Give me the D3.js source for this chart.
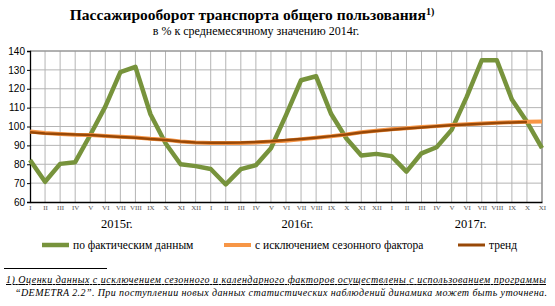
<!DOCTYPE html>
<html>
<head>
<meta charset="utf-8">
<script src="https://cdn.jsdelivr.net/npm/d3@7"></script>
<style>
  body { margin: 0; background: #fff; }
  svg { display: block; }
</style>
</head>
<body>
<svg id="chart"></svg>
<script>
const months = ['I', 'II', 'III', 'IV', 'V', 'VI', 'VII', 'VIII', 'IX', 'X', 'XI', 'XII']
const years = ['2015г.', '2016г.', '2017г.']
const yTicks = [60, 70, 80, 90, 100, 110, 120, 130, 140]

// по фактическим данным
const actual = [
  82.3, 70.7, 80.2, 81.1, 95.5, 110.5, 128.8, 131.6, 106.5, 91.1, 80.0, 79.0,
  77.5, 69.3, 77.4, 79.5, 88.5, 106.0, 124.5, 126.6, 106.6, 93.8, 84.6, 85.5,
  84.3, 76.1, 85.8, 89.0, 98.2, 115.7, 135.1, 135.1, 114.3, 102.5, 88.5
]
// с исключением сезонного фактора
const seasonal = [
  97.3, 96.5, 96.0, 95.6, 95.5, 95.0, 94.6, 94.2, 93.5, 93.0, 92.0, 91.5,
  91.3, 91.3, 91.3, 91.5, 92.0, 92.5, 93.3, 94.0, 94.8, 95.8, 97.0, 97.8,
  98.5, 99.1, 99.7, 100.2, 100.8, 101.2, 101.6, 102.0, 102.3, 102.5, 102.6
]
// тренд
const trend = [
  97.0, 96.3, 96.0, 95.7, 95.5, 95.0, 94.5, 94.0, 93.4, 92.8, 92.0, 91.5,
  91.4, 91.4, 91.5, 91.8, 92.2, 92.8, 93.4, 94.1, 94.9, 95.8, 96.8, 97.6,
  98.3, 98.9, 99.5, 100.1, 100.6, 101.0, 101.4, 101.8, 102.1, 102.4
]

const width = 555
const height = 306
const plotLeft = 30
const plotRight = 542
const plotTop = 51
const plotBottom = 202

const greenColor = '#77933c'
const orangeColor = '#f79646'
const brownColor = '#984807'
const gridColor = '#b4b4b4'

const labels = d3.range(actual.length).map(i => months[i % 12])

const svg = d3.select('#chart').attr('width', width).attr('height', height)

const x = d3.scaleLinear().domain([0, actual.length - 1]).range([plotLeft, plotRight])
const y = d3.scaleLinear().domain([60, 140]).range([plotBottom, plotTop])

// title
const title = svg.append('text')
  .attr('x', 252)
  .attr('y', 20)
  .attr('text-anchor', 'middle')
  .attr('font-family', 'Liberation Serif')
  .attr('font-weight', 'bold')
  .attr('font-size', 15.5)
  .attr('fill', '#000')
title.append('tspan').text('Пассажирооборот транспорта общего пользования')
title.append('tspan').attr('font-size', 10).attr('dy', -5).text('1)')

svg.append('text')
  .attr('x', 256)
  .attr('y', 35)
  .attr('text-anchor', 'middle')
  .attr('font-family', 'Liberation Serif')
  .attr('font-size', 12)
  .text('в % к среднемесячному значению 2014г.')

// grid
const grid = svg.append('g')
grid.selectAll('line.h')
  .data(yTicks.slice(1))
  .enter()
  .append('line')
  .attr('x1', plotLeft).attr('x2', plotRight)
  .attr('y1', d => y(d)).attr('y2', d => y(d))
  .attr('stroke', gridColor).attr('stroke-width', 1)
grid.selectAll('line.v')
  .data(d3.range(1, actual.length))
  .enter()
  .append('line')
  .attr('x1', d => x(d)).attr('x2', d => x(d))
  .attr('y1', plotTop).attr('y2', plotBottom)
  .attr('stroke', gridColor).attr('stroke-width', 1)
grid.append('line')
  .attr('x1', plotRight).attr('x2', plotRight).attr('y1', plotTop).attr('y2', plotBottom)
  .attr('stroke', '#888').attr('stroke-width', 1.2)
grid.append('line')
  .attr('x1', plotLeft).attr('x2', plotRight).attr('y1', plotTop).attr('y2', plotTop)
  .attr('stroke', '#888').attr('stroke-width', 1.2)

// y axis
const yAxis = svg.append('g')
  .attr('transform', 'translate(' + plotLeft + ',0)')
  .call(d3.axisLeft(y).tickValues(yTicks).tickSize(3).tickPadding(2))
yAxis.select('.domain').attr('stroke', '#000').attr('stroke-width', 1.3)
yAxis.selectAll('.tick line').attr('stroke', '#000')
yAxis.selectAll('text')
  .attr('font-family', 'Liberation Sans')
  .attr('font-size', 10)
  .attr('fill', '#000')

// x axis
const xAxis = svg.append('g')
  .attr('transform', 'translate(0,' + plotBottom + ')')
  .call(d3.axisBottom(x).tickValues(d3.range(actual.length)).tickSize(0).tickPadding(3)
    .tickFormat(i => labels[i]))
xAxis.select('.domain').attr('stroke', '#000').attr('stroke-width', 1.3)
xAxis.selectAll('text')
  .attr('font-family', 'Liberation Serif')
  .attr('font-size', 7)
  .attr('fill', '#555')

svg.append('g')
  .selectAll('text')
  .data(years)
  .enter()
  .append('text')
  .attr('x', (d, i) => x((i * 12 + Math.min(i * 12 + 11, actual.length - 1)) / 2) + 4)
  .attr('y', 228)
  .attr('text-anchor', 'middle')
  .attr('font-family', 'Liberation Serif')
  .attr('font-size', 12.5)
  .text(d => d)

// lines
const line = d3.line().x((d, i) => x(i)).y(d => y(d))

svg.append('path')
  .datum(actual)
  .attr('d', line)
  .attr('fill', 'none')
  .attr('stroke', greenColor)
  .attr('stroke-width', 4.5)
  .attr('stroke-linejoin', 'round')

svg.append('path')
  .datum(seasonal)
  .attr('d', line)
  .attr('fill', 'none')
  .attr('stroke', orangeColor)
  .attr('stroke-width', 4)

svg.append('path')
  .datum(trend)
  .attr('d', line)
  .attr('fill', 'none')
  .attr('stroke', brownColor)
  .attr('stroke-width', 2.5)

// legend
const legendItems = [
  { name: 'по фактическим данным', color: greenColor, w: 4.5, x: 42 },
  { name: 'с исключением сезонного фактора', color: orangeColor, w: 4, x: 224 },
  { name: 'тренд', color: brownColor, w: 3, x: 458 }
]
const legend = svg.append('g')
  .selectAll('g')
  .data(legendItems)
  .enter()
  .append('g')
  .attr('transform', d => 'translate(' + d.x + ',245)')
legend.append('line')
  .attr('x1', 0).attr('x2', 27).attr('y1', 0).attr('y2', 0)
  .attr('stroke', d => d.color)
  .attr('stroke-width', d => d.w)
legend.append('text')
  .attr('x', 31)
  .attr('y', 4)
  .attr('font-family', 'Liberation Serif')
  .attr('font-size', 11.5)
  .text(d => d.name)

// footnote
svg.append('line')
  .attr('x1', 4).attr('x2', 107).attr('y1', 268.5).attr('y2', 268.5)
  .attr('stroke', '#000').attr('stroke-width', 1)
svg.append('text')
  .attr('x', 6)
  .attr('y', 283)
  .attr('font-family', 'Liberation Serif')
  .attr('font-style', 'italic')
  .attr('font-size', 10)
  .attr('text-decoration', 'underline')
  .attr('textLength', 540)
  .text('1) Оценки данных  с исключением сезонного и календарного факторов осуществлены с использованием программы')
svg.append('text')
  .attr('x', 15)
  .attr('y', 296)
  .attr('font-family', 'Liberation Serif')
  .attr('font-style', 'italic')
  .attr('font-size', 10)
  .attr('textLength', 532)
  .text('“DEMETRA 2.2”. При поступлении новых данных статистических наблюдений динамика может быть уточнена.')
</script>
</body>
</html>
